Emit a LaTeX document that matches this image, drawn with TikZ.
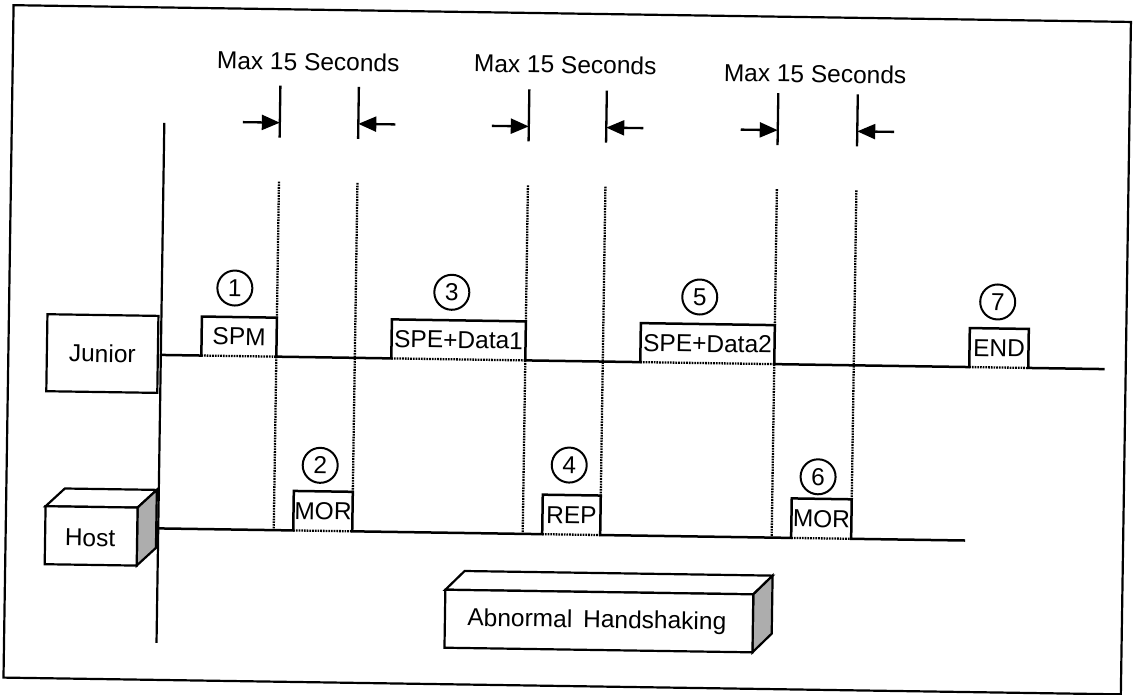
\documentclass[tikz,border=0pt]{standalone}
\usepackage{fontspec}
\setmainfont{Liberation Sans}
\usetikzlibrary{arrows.meta}
\begin{document}
\begin{tikzpicture}[x=1pt,y=-1pt,
  every node/.style={transform shape},
  txt/.style={font=\fontsize{24.5}{29}\selectfont, inner sep=0pt},
  sig/.style={line width=2.5pt},
  dotl/.style={line width=2.3pt, dash pattern=on 1.7pt off 1pt},
  framel/.style={line width=2.2pt},
  tickbar/.style={line width=2.3pt},
  dimarrow/.style={line width=2.3pt, -{Triangle[length=18pt,width=15pt]}},
  num/.style={circle, draw, line width=2pt, minimum size=35pt, inner sep=0pt, font=\fontsize{24.5}{29}\selectfont},
  plabel/.style={font=\fontsize{24.5}{29}\selectfont, inner sep=0pt},
  box/.style={draw, line width=2.2pt, fill=white},
  sidef/.style={draw, line width=2.2pt, fill=black!32}
]
\useasboundingbox (0,0) rectangle (1133,694);
\begin{scope}[rotate around={-0.86:(566,347)}]
% frame
\draw[framel] (8.5,13.5) rectangle (1126,686);
% axis
\coordinate (axtop) at (161,129);
\coordinate (axbot) at (161,649);
\draw[framel] (axtop) -- (axbot);

% Junior box
\node[box, minimum width=111pt, minimum height=77pt, txt] (junior) at (102.5,360.5) {Junior};

% Host 3D box
\draw[box] (48,514) -- (67,496) -- (159,496) -- (140,514) -- cycle;
\draw[sidef] (140,514) -- (159,496) -- (159,554) -- (140,572) -- cycle;
\draw[box] (48,514) rectangle (140,572);
\node[txt] (host) at (93,545) {Host};

% Abnormal Handshaking 3D box
\draw[box] (449,591.5) -- (468,572.5) -- (776,572.5) -- (757,591.5) -- cycle;
\draw[sidef] (757,591.5) -- (776,572.5) -- (776,630.5) -- (757,649.5) -- cycle;
\draw[box] (449,591.5) rectangle (757,649.5);
\node[txt] (abn) at (601,621) {Abnormal\hspace{11pt}Handshaking};

% dotted time lines
\foreach \x in {276.5,525.5,774.5} {
  \draw[dotl] (\x,186) -- (\x,322);
  \draw[dotl] (\x,361) -- (\x,534.5);
}
\foreach \x in {355,603,854} {
  \draw[dotl] (\x,186) -- (\x,495);
}
% dotted pulse bases
\foreach \a/\b in {201.5/276.5,391.5/525.5,640.5/774.5,969.5/1028.5} {
  \draw[dotl] (\a,361) -- (\b,361);
}
\foreach \a/\b in {296/355,545/603,794/854} {
  \draw[dotl] (\a,534.5) -- (\b,534.5);
}

% Junior signal
\draw[sig] (161,361) -- (201.5,361) -- (201.5,322) -- (276.5,322) -- (276.5,361)
  -- (391.5,361) -- (391.5,322) -- (525.5,322) -- (525.5,361)
  -- (640.5,361) -- (640.5,322) -- (774.5,322) -- (774.5,361)
  -- (969.5,361) -- (969.5,322) -- (1028.5,322) -- (1028.5,361) -- (1105,361);
% Host signal
\draw[sig] (161,534.5) -- (296,534.5) -- (296,495) -- (355,495) -- (355,534.5)
  -- (545,534.5) -- (545,495) -- (603,495) -- (603,534.5)
  -- (794,534.5) -- (794,495) -- (854,495) -- (854,534.5) -- (968,534.5);

% pulse labels
\node[plabel] (spm) at (239,341.5) {SPM};
\node[plabel] (spe1) at (458.5,341.5) {SPE+Data1};
\node[plabel] (spe2) at (707.5,341.5) {SPE+Data2};
\node[plabel] (endl) at (999,341.5) {END};
\node[plabel] (mor1) at (325.5,515) {MOR};
\node[plabel] (rep) at (574,515) {REP};
\node[plabel] (mor2) at (824,515) {MOR};

% numbered circles
\node[num] (n1) at (234,293) {1};
\node[num] (n3) at (451,294) {3};
\node[num] (n5) at (699,295) {5};
\node[num] (n7) at (997,295.5) {7};
\node[num] (n2) at (322,469) {2};
\node[num] (n4) at (571,465) {4};
\node[num] (n6) at (820,473) {6};

% timing markers
\foreach \x in {276.5,355,525.5,603,774.5,854} {
  \draw[tickbar] (\x,90) -- (\x,142);
}
\foreach \l/\r/\i in {276.5/355/1,525.5/603/2,774.5/854/3} {
  \coordinate (la\i) at (\l-37,127);
  \coordinate (lb\i) at (\l,127);
  \coordinate (ra\i) at (\r+37,127);
  \coordinate (rb\i) at (\r,127);
  \draw[dimarrow] (la\i) -- (lb\i);
  \draw[dimarrow] (ra\i) -- (rb\i);
}
\node[txt] (m1) at (304,65.5) {Max 15 Seconds};
\node[txt] (m2) at (561,64.5) {Max 15 Seconds};
\node[txt] (m3) at (811,70) {Max 15 Seconds};
\end{scope}
\end{tikzpicture}
\end{document}
